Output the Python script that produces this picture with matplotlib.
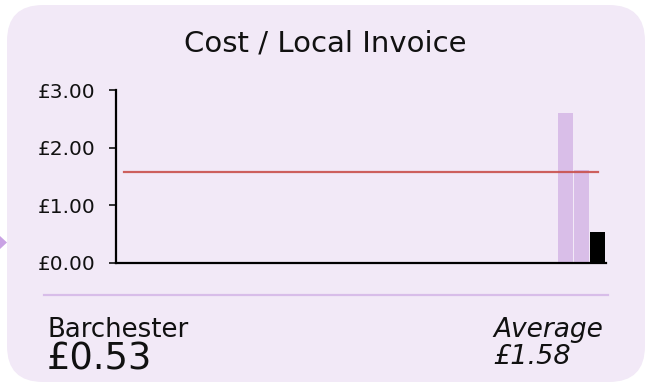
import numpy as np
import matplotlib.pyplot as plt
from matplotlib.patches import FancyBboxPatch, Polygon
from matplotlib.transforms import IdentityTransform

W, H = 647, 387

# data: 30 councils, only the last three have values
n_slots = 30
bar_idx = [27, 28, 29]
bar_vals = [2.60, 1.61, 0.53]
bar_cols = ['#d9bee8', '#d9bee8', '#000000']
avg = 1.58
yticks = [0, 1, 2, 3]
ytick_labels = ['£0.00', '£1.00', '£2.00', '£3.00']
title = 'Cost / Local Invoice'
name = 'Barchester'
name_val = '£0.53'
avg_label = 'Average'
avg_val = '£1.58'

bg = '#f2e9f7'


def px(x, y):
    # pixel coords from top-left -> figure fraction
    return x / W, 1 - y / H


fig = plt.figure(figsize=(W / 100, H / 100), dpi=100)
fig.patch.set_facecolor('white')

# card background
card = FancyBboxPatch((7, H - 382), 638, 377,
                      boxstyle='round,pad=0,rounding_size=36',
                      transform=IdentityTransform(), facecolor=bg,
                      edgecolor='none', zorder=-10)
fig.patches.append(card)
arrow = Polygon([px(0, 236), px(0, 249), px(7, 242.5)], closed=True,
                transform=fig.transFigure, facecolor='#c9a2e4',
                edgecolor='none', zorder=-10)
fig.patches.append(arrow)

# axes
l, r, t, b = 116, 606, 90, 263
ax = fig.add_axes([l / W, 1 - b / H, (r - l) / W, (b - t) / H])
ax.set_facecolor('none')
ax.bar(bar_idx, bar_vals, width=0.92, color=bar_cols, zorder=2)
ax.plot([0, n_slots - 1], [avg, avg], color='#c9504c', lw=1.6,
        alpha=0.9, zorder=3)
ax.set_xlim(-0.5, n_slots - 0.5)
ax.set_ylim(0, 3)
ax.set_yticks(yticks)
ax.set_yticklabels(ytick_labels)
ax.set_xticks([])
for s in ['top', 'right']:
    ax.spines[s].set_visible(False)
for s in ['left', 'bottom']:
    ax.spines[s].set_linewidth(1.6)
ax.tick_params(axis='y', length=5, width=1.2, pad=10, labelsize=14.5,
               colors='#111111')

# title and footer texts
fig.text(*px(325, 52), title, ha='center', va='baseline', fontsize=21,
         color='#111111')
fig.add_artist(plt.Line2D([44 / W, 608 / W], [1 - 295 / H, 1 - 295 / H],
                          color='#d8bde9', lw=1.6))
fig.text(*px(48, 337), name, ha='left', va='baseline', fontsize=18.7,
         color='#111111')
fig.text(*px(47, 369), name_val, ha='left', va='baseline', fontsize=26.5,
         color='#111111')
fig.text(*px(493, 337), avg_label, ha='left', va='baseline', fontsize=19,
         style='italic', color='#111111')
fig.text(*px(493, 364), avg_val, ha='left', va='baseline', fontsize=19.5,
         style='italic', color='#111111')

fig.savefig('out.png', dpi=100)
